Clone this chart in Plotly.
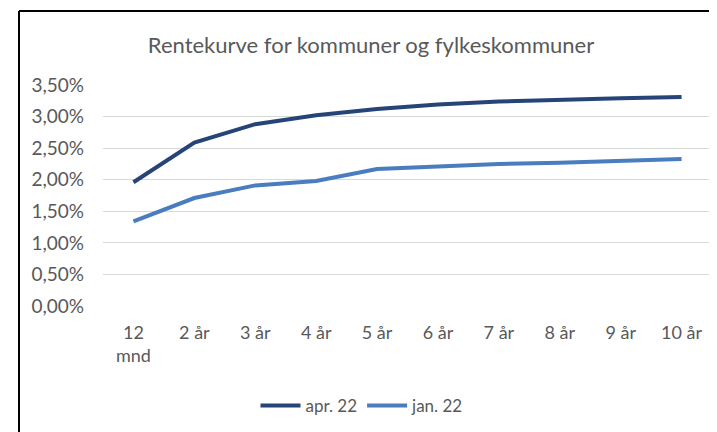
import plotly.graph_objects as go

categories = ["12<br>mnd", "2 år", "3 år", "4 år", "5 år", "6 år", "7 år", "8 år", "9 år", "10 år"]
apr22 = [1.96, 2.59, 2.88, 3.02, 3.12, 3.19, 3.24, 3.27, 3.29, 3.31]
jan22 = [1.34, 1.71, 1.91, 1.98, 2.17, 2.21, 2.25, 2.27, 2.30, 2.33]
y_ticks = [0, 0.5, 1.0, 1.5, 2.0, 2.5, 3.0, 3.5]
y_labels = ["0,00%", "0,50%", "1,00%", "1,50%", "2,00%", "2,50%", "3,00%", "3,50%"]

OFF = 8  # page body margin
W, H = 717 - OFF, 432 - OFF
# plot area in reference (window) pixels
PX0, PX1, PY0, PY1 = 103, 712, 85, 306
L, R, T, B = PX0 - OFF, W - (PX1 - OFF), PY0 - OFF, H - (PY1 - OFF)
pw, ph = W - L - R, H - T - B

def px_x(x):
    return (x - OFF - L) / pw

def px_y(y):
    return (H - B - (y - OFF)) / ph

font = "Lato, Calibri, sans-serif"
grey = "#595959"

fig = go.Figure()
fig.add_trace(go.Scatter(x=list(range(len(categories))), y=apr22, name="apr. 22", mode="lines",
                         line=dict(color="#264478", width=4)))
fig.add_trace(go.Scatter(x=list(range(len(categories))), y=jan22, name="jan. 22", mode="lines",
                         line=dict(color="#4a7dbf", width=4)))

fig.update_layout(
    width=W, height=H,
    margin=dict(l=L, r=R, t=T, b=B),
    paper_bgcolor="white", plot_bgcolor="white",
    font=dict(family=font, size=16, color=grey),
    title=dict(text="Rentekurve for kommuner og fylkeskommuner", x=px_x(371), xref="paper",
               xanchor="center", y=1 - (45 - OFF) / H, yanchor="middle",
               font=dict(size=22, color=grey, family=font)),
    showlegend=True,
    legend=dict(orientation="h", x=px_x(362), xanchor="center", y=px_y(406), yanchor="middle",
                font=dict(size=17, color=grey), itemwidth=40, tracegroupgap=0),
    xaxis=dict(tickmode="array", tickvals=list(range(len(categories))), ticktext=categories,
               range=[-0.5, len(categories) - 0.5], showgrid=False, zeroline=False,
               showline=False, ticks="", tickfont=dict(size=18, color=grey),
               ticklabelstandoff=14),
    yaxis=dict(range=[0, 3.5], tickmode="array", tickvals=y_ticks, ticktext=y_labels,
               showgrid=True, gridcolor="#d9d9d9", gridwidth=1.3, zeroline=False,
               showline=False, ticks="", tickfont=dict(size=19, color=grey),
               ticklabelstandoff=18),
    shapes=[
        dict(type="line", xref="paper", yref="paper", x0=px_x(19), x1=px_x(760),
             y0=px_y(11), y1=px_y(11), line=dict(color="black", width=2)),
        dict(type="line", xref="paper", yref="paper", x0=px_x(19), x1=px_x(19),
             y0=px_y(11), y1=px_y(470), line=dict(color="black", width=2)),
    ],
)

fig.write_html("out.html")
